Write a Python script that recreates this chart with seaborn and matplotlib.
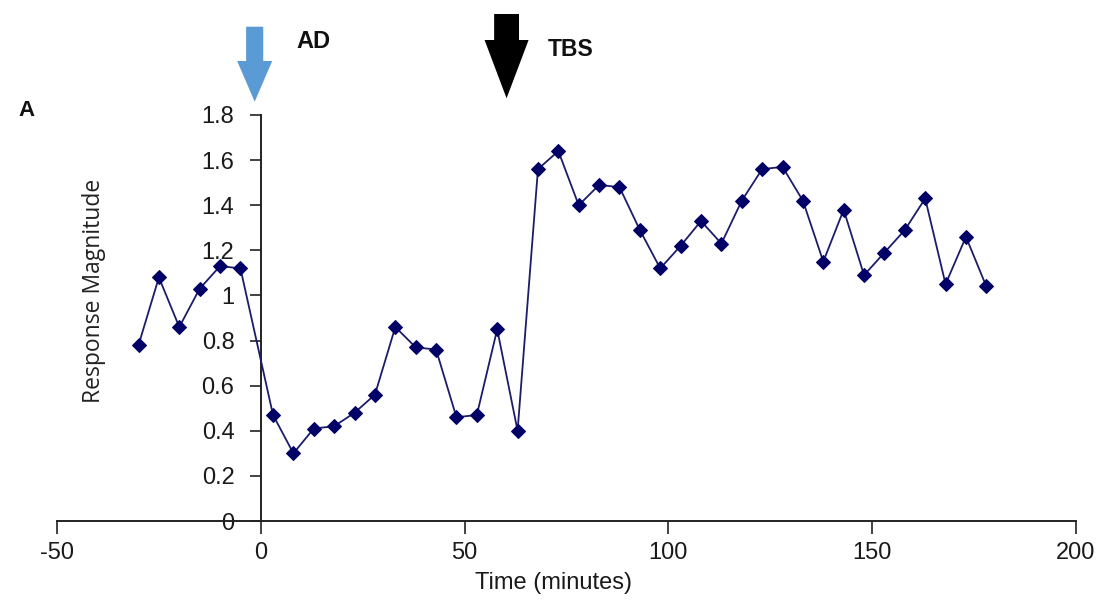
import numpy as np
import pandas as pd
import seaborn as sns
import matplotlib
matplotlib.use("Agg")
import matplotlib.pyplot as plt
import matplotlib.patches as mpatches
from matplotlib.transforms import blended_transform_factory
from matplotlib.ticker import FuncFormatter

# Sampling times (minutes): baseline before AD, then every 5 min after it
time_pre = [-30, -25, -20, -15, -10, -5]
time_post = [3, 8, 13, 18, 23, 28, 33, 38, 43, 48, 53, 58, 63,
             68, 73, 78, 83, 88, 93, 98, 103, 108, 113, 118, 123, 128,
             133, 138, 143, 148, 153, 158, 163, 168, 173, 178]

response_pre = [0.78, 1.08, 0.86, 1.03, 1.13, 1.12]
response_post = [0.47, 0.30, 0.41, 0.42, 0.48, 0.56, 0.86, 0.77, 0.76, 0.46,
                 0.47, 0.85, 0.40,
                 1.56, 1.64, 1.40, 1.49, 1.48, 1.29, 1.12, 1.22, 1.33, 1.23,
                 1.42, 1.56, 1.57, 1.42, 1.15, 1.38, 1.09, 1.19, 1.29, 1.43,
                 1.05, 1.26, 1.04]

x_ticks = [-50, 0, 50, 100, 150, 200]
y_ticks = [0, 0.2, 0.4, 0.6, 0.8, 1.0, 1.2, 1.4, 1.6, 1.8]

# Stimulus events (time in minutes)
event_labels = ["AD", "TBS"]
event_times = [-1.5, 60.3]

df = pd.DataFrame({
    "Time": time_pre + time_post,
    "Response": response_pre + response_post,
})

sns.set_theme(style="white")
plt.rcParams["font.family"] = ["Liberation Sans", "DejaVu Sans"]
plt.rcParams["axes.unicode_minus"] = False

W, H = 1110, 613
fig = plt.figure(figsize=(W / 100, H / 100), dpi=100)
ax = fig.add_axes([57 / W, 1 - 521 / H, (1076 - 57) / W, (521 - 115) / H])

sns.lineplot(data=df, x="Time", y="Response", ax=ax, color="#1c1c6b",
             linewidth=1.3, marker="D", markersize=7.5,
             markerfacecolor="#000066", markeredgecolor="#000066",
             zorder=3)

ax.set_xlim(-50, 200)
ax.set_ylim(0, 1.8)
ax.set_xticks(x_ticks)
ax.set_yticks(y_ticks)
ax.yaxis.set_major_formatter(FuncFormatter(lambda v, p: f"{v:g}"))

# Axes cross at the origin, Excel style
ax.spines["left"].set_position(("data", 0))
ax.spines["top"].set_visible(False)
ax.spines["right"].set_visible(False)
for side in ("left", "bottom"):
    ax.spines[side].set_color("#222222")
    ax.spines[side].set_linewidth(1.4)

ax.tick_params(axis="y", direction="out", length=8, width=1.2,
               color="#222222", labelsize=17, pad=11, labelcolor="#1a1a1a")
ax.tick_params(axis="x", direction="out", length=9, width=1.2,
               color="#222222", labelsize=17, pad=6, labelcolor="#1a1a1a")
ax.tick_params(left=True, bottom=True)

ax.set_xlabel("Time (minutes)", fontsize=17, color="#1a1a1a")
ax.xaxis.set_label_coords(0.487, -0.125)
ax.set_ylabel("Response Magnitude", fontsize=16.5, color="#222222",
              family=["Open Sans", "DejaVu Sans"])
ax.yaxis.set_label_coords(0.048, 0.567)
ax.grid(False)

# Event arrows above the plot (x in data units, y in figure fraction)
trans = blended_transform_factory(ax.transData, fig.transFigure)
arrow_specs = [
    # top, tip, head length (px from top); shaft, head width (data); colour
    (26.7, 101.7, 40.7, 4.2, 8.6, "#5b9bd5"),
    (14.0, 98.3, 58.3, 6.1, 10.8, "#000000"),
]
text_specs = [(296.0, 42.0, 17), (548.0, 50.0, 16.5)]
for t, (top, tip, head_len, sw, hw, col), (tx, ty, fs), lab in zip(
        event_times, arrow_specs, text_specs, event_labels):
    y0 = 1 - top / H
    y1 = 1 - tip / H
    arr = mpatches.FancyArrow(t, y0, 0, y1 - y0, width=sw, head_width=hw,
                              head_length=head_len / H,
                              length_includes_head=True,
                              transform=trans, color=col, clip_on=False,
                              linewidth=0)
    fig.add_artist(arr)
    fig.text(tx / W, 1 - ty / H, lab, fontsize=fs, fontweight="bold",
             color="#111111", ha="left", va="center")

fig.text(18 / W, 1 - 111 / H, "A", fontsize=16, fontweight="bold",
         color="#111111", ha="left", va="center")

fig.savefig("out.png", dpi=100, facecolor="white")
